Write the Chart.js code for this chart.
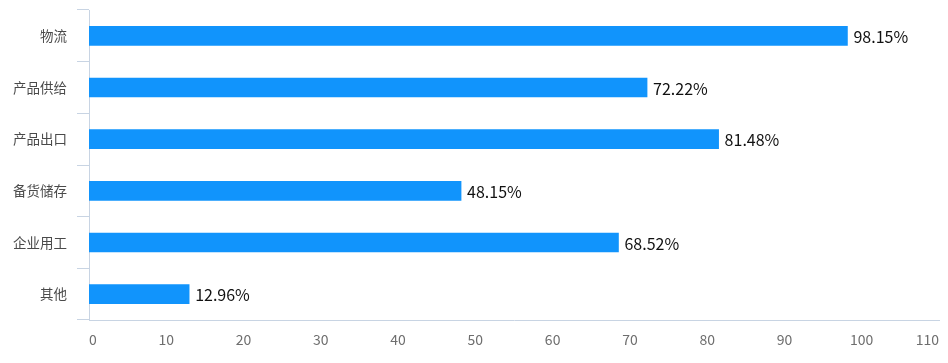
<!DOCTYPE html>
<html>
<head>
<meta charset="utf-8">
<script src="https://cdn.jsdelivr.net/npm/chart.js@4/dist/chart.umd.min.js"></script>
<style>
    html, body { margin: 0; padding: 0; background: #fff; }
    #wrap { width: 948px; height: 363px; position: relative; }
</style>
</head>
<body>
<div id="wrap"><canvas id="chart"></canvas></div>
<script>
const categories = ['物流', '产品供给', '产品出口', '备货储存', '企业用工', '其他'];
const shares = [98.15, 72.22, 81.48, 48.15, 68.52, 12.96];
const xTicks = [0, 10, 20, 30, 40, 50, 60, 70, 80, 90, 100, 110];

const axisColor = '#c8d4e3';
const fontFamily = '"Noto Sans CJK SC", "Noto Sans", sans-serif';

// draws "xx.xx%" to the right of each bar
const valueLabels = {
    id: 'valueLabels',
    afterDatasetsDraw(chart) {
        const ctx = chart.ctx;
        const meta = chart.getDatasetMeta(0);
        ctx.save();
        ctx.font = '16px ' + fontFamily;
        ctx.fillStyle = '#111';
        ctx.textAlign = 'left';
        ctx.textBaseline = 'middle';
        meta.data.forEach((bar, i) => {
            ctx.fillText(shares[i].toFixed(2) + '%', bar.x + 6, bar.y + 1);
        });
        ctx.restore();
    }
};

new Chart(document.getElementById('chart'), {
    type: 'bar',
    data: {
        labels: categories,
        datasets: [{
            data: shares,
            backgroundColor: '#1194fc',
            barThickness: 19
        }]
    },
    options: {
        indexAxis: 'y',
        responsive: true,
        maintainAspectRatio: false,
        animation: false,
        layout: { padding: { top: 10, right: 9, left: 0, bottom: 0 } },
        plugins: {
            legend: { display: false },
            tooltip: { enabled: false }
        },
        scales: {
            x: {
                min: 0,
                max: 110,
                afterBuildTicks: s => { s.ticks = xTicks.map(v => ({ value: v })); },
                afterFit: s => { s.height = 43; s.paddingRight = 0; s.paddingLeft = 0; },
                grid: { display: false, drawTicks: false },
                border: { display: true, color: axisColor, width: 1 },
                ticks: {
                    align: 'inner',
                    padding: 11,
                    color: '#6e6e6e',
                    font: { size: 14, family: fontFamily }
                }
            },
            y: {
                afterFit: s => { s.width = 89; s.paddingTop = 0; s.paddingBottom = 0; },
                grid: {
                    offset: true,
                    drawOnChartArea: false,
                    drawTicks: true,
                    tickLength: 12,
                    color: axisColor
                },
                border: { display: true, color: axisColor, width: 1 },
                ticks: {
                    padding: 10,
                    color: '#4a4a4a',
                    font: { size: 13.5, family: fontFamily }
                }
            }
        }
    },
    plugins: [valueLabels]
});
</script>
</body>
</html>
